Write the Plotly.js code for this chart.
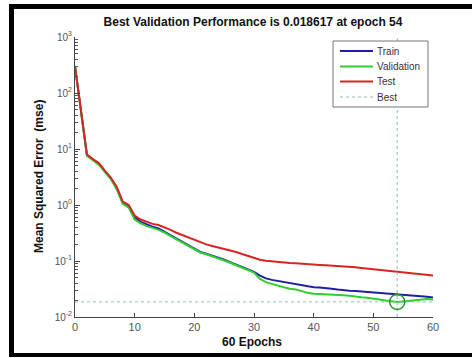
<!DOCTYPE html>
<html>
<head>
<meta charset="utf-8">
<script src="https://cdn.plot.ly/plotly-3.0.1.min.js"></script>
<style>
html,body{margin:0;padding:0;background:#fff;}
#wrap{position:relative;width:472px;height:358px;overflow:hidden;}
#chart{position:absolute;left:0;top:0;width:472px;height:358px;}
#frame{position:absolute;left:9px;top:4px;width:520px;height:353px;box-sizing:border-box;
  border-left:5px solid #000;border-top:5px solid #000;border-bottom:4px solid #000;pointer-events:none;}
</style>
</head>
<body>
<div id="wrap"><div id="chart"></div><div id="frame"></div></div>
<script>
const epochs = Array.from({length: 61}, (_, i) => i);
const train = [300, 50, 7.8, 6.5, 5.4, 4.0, 3.0, 2.0, 1.1, 0.95,
  0.6, 0.5, 0.45, 0.41, 0.38, 0.33, 0.29, 0.25, 0.22, 0.19,
  0.165, 0.145, 0.135, 0.125, 0.115, 0.105, 0.095, 0.086, 0.078, 0.071,
  0.064, 0.055, 0.049, 0.046, 0.044, 0.042, 0.040, 0.039, 0.037, 0.035,
  0.034, 0.0335, 0.033, 0.032, 0.031, 0.030, 0.0295, 0.029, 0.0285, 0.028,
  0.0275, 0.027, 0.0265, 0.026, 0.0258, 0.025, 0.0245, 0.024, 0.0235, 0.023, 0.0222];
const validation = [300, 50, 7.5, 6.3, 5.2, 3.9, 2.9, 1.9, 1.05, 0.9,
  0.55, 0.47, 0.42, 0.39, 0.36, 0.32, 0.28, 0.245, 0.215, 0.185,
  0.16, 0.142, 0.132, 0.122, 0.112, 0.102, 0.093, 0.084, 0.076, 0.069,
  0.062, 0.048, 0.042, 0.039, 0.036, 0.034, 0.032, 0.031, 0.029, 0.027,
  0.026, 0.0258, 0.0255, 0.025, 0.0248, 0.0245, 0.024, 0.023, 0.0225, 0.022,
  0.021, 0.0205, 0.0198, 0.0192, 0.018617, 0.019, 0.0195, 0.020, 0.0205, 0.021, 0.0205];
const test = [300, 50, 8, 6.6, 5.6, 4.1, 3.1, 2.1, 1.15, 1.0,
  0.65, 0.55, 0.50, 0.46, 0.44, 0.40, 0.36, 0.32, 0.29, 0.26,
  0.235, 0.215, 0.198, 0.185, 0.175, 0.165, 0.158, 0.145, 0.133, 0.122,
  0.113, 0.105, 0.101, 0.098, 0.096, 0.094, 0.092, 0.091, 0.089, 0.087,
  0.086, 0.085, 0.084, 0.083, 0.082, 0.081, 0.079, 0.077, 0.075, 0.073,
  0.071, 0.069, 0.067, 0.065, 0.064, 0.062, 0.060, 0.058, 0.057, 0.056, 0.055];
const seriesNames = ['Train', 'Validation', 'Test', 'Best'];
const yTickVals = [0.01, 0.1, 1, 10, 100, 1000];
const yTickText = ['10<sup>-2</sup>', '10<sup>-1</sup>', '10<sup>0</sup>', '10<sup>1</sup>', '10<sup>2</sup>', '10<sup>3</sup>'];
const xTickVals = [0, 10, 20, 30, 40, 50, 60];

let bestEpoch = 0;
validation.forEach((v, i) => { if (v < validation[bestEpoch]) bestEpoch = i; });
const bestVal = validation[bestEpoch];
const xMin = epochs[0], xMax = epochs[epochs.length - 1];
const yMin = yTickVals[0], yMax = yTickVals[yTickVals.length - 1];

// minor log ticks 2..9 per decade
const minorVals = [];
for (let d = 0; d < yTickVals.length - 1; d++) for (let k = 2; k <= 9; k++) minorVals.push(k * yTickVals[d]);

const blue = '#1f1fa6', green = '#2fcf2f', red = '#d82424', bestC = '#8dbfa6';
const colors = [blue, green, red, bestC];
const font = 'Liberation Sans, Arial, sans-serif';

const traces = [
  {x: epochs, y: train, mode: 'lines', name: 'Train', line: {color: blue, width: 2}},
  {x: epochs, y: validation, mode: 'lines', name: 'Validation', line: {color: green, width: 2}},
  {x: epochs, y: test, mode: 'lines', name: 'Test', line: {color: red, width: 2}},
  {x: [xMin, xMax, null, bestEpoch, bestEpoch], y: [bestVal, bestVal, null, yMin, yMax],
   mode: 'lines', name: 'Best', line: {color: bestC, width: 1, dash: 'dot'}},
  {x: [bestEpoch], y: [bestVal], mode: 'markers',
   marker: {symbol: 'circle-open', size: 15, color: '#1f9f2f', line: {width: 1.5, color: '#1f9f2f'}}},
  {x: [xMin], y: [yMin], yaxis: 'y2', mode: 'markers', marker: {opacity: 0}, hoverinfo: 'skip'}
];

// plot area in pixels: x 75..433, y 37..317
const L = 75, R = 433, T = 37, B = 317;
const px2x = p => (p - L) / (R - L);
const px2y = p => (B - p) / (B - T);

const shapes = [
  {type: 'rect', xref: 'paper', yref: 'paper', x0: px2x(333), x1: px2x(428), y0: px2y(107), y1: px2y(41),
   line: {color: '#777', width: 1}, fillcolor: '#fff', layer: 'above'}
];
const legendRows = [51, 66.5, 81.5, 97];
const annotations = [
  {text: 'Mean Squared Error  (mse)', xref: 'paper', yref: 'paper', x: px2x(39), y: 0.5,
   textangle: -90, xanchor: 'center', yanchor: 'middle', showarrow: false,
   font: {family: font, size: 12, color: '#111', weight: 'bold'}},
  {text: '60 Epochs', xref: 'paper', yref: 'paper', x: px2x(252), y: px2y(342),
   xanchor: 'center', yanchor: 'middle', showarrow: false,
   font: {family: font, size: 12, color: '#111', weight: 'bold'}}
];
seriesNames.forEach((n, i) => {
  shapes.push({type: 'line', xref: 'paper', yref: 'paper', x0: px2x(340), x1: px2x(373),
    y0: px2y(legendRows[i]), y1: px2y(legendRows[i]), layer: 'above',
    line: {color: colors[i], width: i === 3 ? 1 : 2, dash: i === 3 ? 'dot' : 'solid'}});
  annotations.push({text: n, xref: 'paper', yref: 'paper', x: px2x(375), y: px2y(legendRows[i]),
    xanchor: 'left', yanchor: 'middle', showarrow: false,
    font: {family: font, size: 10, color: '#333'}});
});

const layout = {
  width: 472, height: 358,
  margin: {l: L, r: 472 - R, t: T, b: 358 - B},
  paper_bgcolor: '#fff', plot_bgcolor: '#fff',
  showlegend: false,
  font: {family: font, size: 10, color: '#555'},
  title: {text: 'Best Validation Performance is 0.018617 at epoch 54',
    font: {family: font, size: 12, color: '#111', weight: 'bold'},
    x: 253 / 472, xanchor: 'center', y: 1 - 22 / 358, yanchor: 'middle'},
  xaxis: {range: [xMin, xMax], tickvals: xTickVals, ticks: 'inside', ticklen: 4,
    tickcolor: '#444', showline: true, linecolor: '#444', linewidth: 1, zeroline: false,
    showgrid: false, tickfont: {family: font, size: 11, color: '#555'}},
  yaxis: {type: 'log', range: [Math.log10(yMin), Math.log10(yMax)], tickvals: yTickVals, ticktext: yTickText,
    ticks: 'inside', ticklen: 5, tickcolor: '#444', showline: true, linecolor: '#444', linewidth: 1,
    showgrid: false, zeroline: false, tickfont: {family: font, size: 10, color: '#555'}},
  yaxis2: {type: 'log', overlaying: 'y', side: 'left', anchor: 'x',
    range: [Math.log10(yMin), Math.log10(yMax)], tickvals: minorVals, ticks: 'inside', ticklen: 3,
    tickcolor: '#555', showticklabels: false, showline: false, showgrid: false, zeroline: false},
  shapes: shapes,
  annotations: annotations
};
Plotly.newPlot('chart', traces, layout, {displayModeBar: false, staticPlot: true});
</script>
</body>
</html>
